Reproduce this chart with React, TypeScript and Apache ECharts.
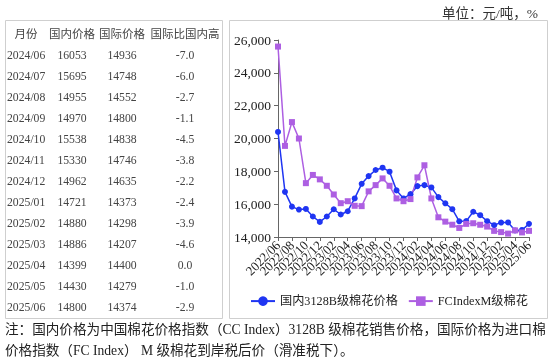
import React, { useEffect, useRef } from "react";
import * as echarts from "echarts";

const months = [
  "2022/06","2022/07","2022/08","2022/09","2022/10","2022/11","2022/12",
  "2023/01","2023/02","2023/03","2023/04","2023/05","2023/06","2023/07","2023/08","2023/09","2023/10","2023/11","2023/12",
  "2024/01","2024/02","2024/03","2024/04","2024/05","2024/06","2024/07","2024/08","2024/09","2024/10","2024/11","2024/12",
  "2025/01","2025/02","2025/03","2025/04","2025/05","2025/06",
];
const domestic = [20400, 16750, 15850, 15670, 15710, 15250, 14920, 15250, 15690, 15370, 15570, 16350, 17240, 17710, 18080, 18220, 17980, 16840, 16350, 16610, 17100, 17160, 17020, 16430, 16053, 15695, 14955, 14970, 15538, 15330, 14962, 14721, 14880, 14886, 14399, 14430, 14800];
const international = [25600, 19550, 21000, 20000, 17280, 17780, 17510, 17120, 16590, 16060, 16180, 15900, 15880, 16780, 17160, 17570, 17120, 16350, 16180, 16310, 17630, 18370, 16350, 15200, 14936, 14748, 14552, 14800, 14838, 14746, 14635, 14373, 14298, 14207, 14400, 14279, 14374];

const tableHeaders = ["月份", "国内价格", "国际价格", "国际比国内高"];
const tableMonths = ["2024/06","2024/07","2024/08","2024/09","2024/10","2024/11","2024/12","2025/01","2025/02","2025/03","2025/04","2025/05","2025/06"];
const tableDomestic = [16053, 15695, 14955, 14970, 15538, 15330, 14962, 14721, 14880, 14886, 14399, 14430, 14800];
const tableIntl = [14936, 14748, 14552, 14800, 14838, 14746, 14635, 14373, 14298, 14207, 14400, 14279, 14374];
const tableDiff = [-7.0, -6.0, -2.7, -1.1, -4.5, -3.8, -2.2, -2.4, -3.9, -4.6, 0.0, -1.0, -2.9];

const seriesNames = ["国内3128B级棉花价格", "FCIndexM级棉花"];
const unitText = "单位：元/吨，%";
const noteLines = [
  "注：国内价格为中国棉花价格指数（CC Index）3128B 级棉花销售价格，国际价格为进口棉",
  "价格指数（FC Index） M 级棉花到岸税后价（滑准税下）。",
];

const SERIF = "'Liberation Serif', 'Noto Sans CJK SC', serif";
const BLUE = "#1f35f2";
const PURPLE = "#ad5fe2";

export default function App() {
  const ref = useRef<HTMLDivElement>(null);
  useEffect(() => {
    if (!ref.current) return;
    const chart = echarts.init(ref.current, null, { renderer: "svg" });

    const graphics: any[] = [];
    graphics.push({ type: "rect", shape: { x: 5.5, y: 20.5, width: 217, height: 298 }, style: { fill: "none", stroke: "#cfcfcf", lineWidth: 1 }, silent: true });
    graphics.push({ type: "rect", shape: { x: 229.5, y: 20.5, width: 318, height: 298 }, style: { fill: "none", stroke: "#cfcfcf", lineWidth: 1 }, silent: true });
    const colX = [26, 72, 122, 185];
    tableHeaders.forEach((h, i) => {
      graphics.push({ type: "text", x: colX[i], y: 33, style: { text: h, font: "11.5px 'Noto Sans CJK SC', sans-serif", fill: "#444", align: "center", verticalAlign: "middle" } });
    });
    tableMonths.forEach((m, r) => {
      const y = 55 + r * 21.06;
      const f = `11.7px ${SERIF}`;
      graphics.push({ type: "text", x: 7, y, style: { text: m, font: f, fill: "#444", align: "left", verticalAlign: "middle" } });
      graphics.push({ type: "text", x: colX[1], y, style: { text: String(tableDomestic[r]), font: f, fill: "#444", align: "center", verticalAlign: "middle" } });
      graphics.push({ type: "text", x: colX[2], y, style: { text: String(tableIntl[r]), font: f, fill: "#444", align: "center", verticalAlign: "middle" } });
      graphics.push({ type: "text", x: colX[3], y, style: { text: tableDiff[r].toFixed(1), font: f, fill: "#444", align: "center", verticalAlign: "middle" } });
    });
    graphics.push({ type: "text", x: 538, y: 13, style: { text: unitText, font: `13.5px ${SERIF}`, fill: "#333", align: "right", verticalAlign: "middle" } });
    noteLines.forEach((t, i) => {
      graphics.push({ type: "text", x: 5, y: 329 + i * 21, style: { text: t, font: `13.6px ${SERIF}`, fill: "#222", align: "left", verticalAlign: "middle" } });
    });

    chart.setOption({
      animation: false,
      graphic: graphics,
      grid: { left: 278, right: 25, top: 40, bottom: 127, containLabel: false },
      legend: {
        left: 245,
        top: 290,
        itemWidth: 24,
        itemHeight: 12,
        itemGap: 10,
        textStyle: { fontFamily: SERIF, fontSize: 12.2, color: "#222" },
        data: seriesNames,
      },
      xAxis: {
        type: "category",
        data: months,
        boundaryGap: false,
        axisLine: { lineStyle: { color: "#666" } },
        axisTick: { interval: 1, length: 4, lineStyle: { color: "#666" } },
        axisLabel: {
          interval: 0, rotate: 45, fontFamily: SERIF, fontSize: 13, color: "#222", margin: 6,
          hideOverlap: false, showMinLabel: true, showMaxLabel: true,
          formatter: (v: string, idx: number) => (idx % 2 === 0 ? v : ""),
        },
      },
      yAxis: {
        type: "value",
        min: 14000,
        max: 26000,
        interval: 2000,
        splitLine: { show: false },
        axisLine: { show: true, lineStyle: { color: "#666" } },
        axisTick: { show: true, length: 4, lineStyle: { color: "#666" } },
        axisLabel: {
          fontFamily: SERIF, fontSize: 13.5, color: "#222", margin: 7,
          formatter: (v: number) => v.toLocaleString("en-US"),
        },
      },
      series: [
        {
          name: seriesNames[0], type: "line", data: domestic,
          symbol: "circle", symbolSize: 6, showAllSymbol: true,
          lineStyle: { color: BLUE, width: 1.5 }, itemStyle: { color: BLUE },
        },
        {
          name: seriesNames[1], type: "line", data: international,
          symbol: "rect", symbolSize: 6, showAllSymbol: true,
          lineStyle: { color: PURPLE, width: 1.5 }, itemStyle: { color: PURPLE },
        },
      ],
    });
    return () => chart.dispose();
  }, []);
  return <div ref={ref} style={{ position: "fixed", left: 0, top: 0, width: 554, height: 364 }} />;
}
